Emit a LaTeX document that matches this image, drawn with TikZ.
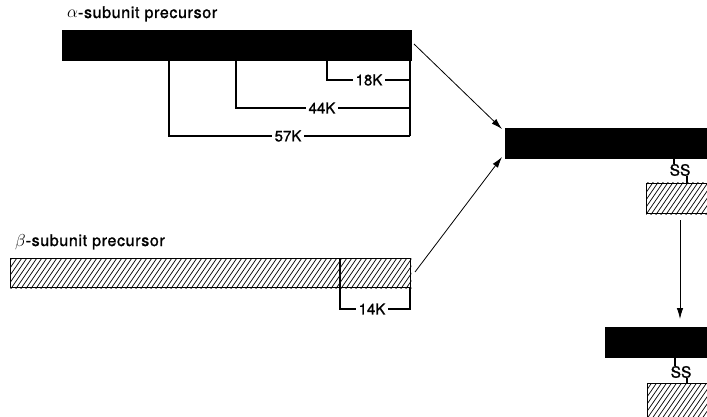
\documentclass[tikz,border=0pt]{standalone}
\usepackage{amsmath}
\usepackage{fontspec}
\setmainfont{TeX Gyre Heros}
\newfontfamily\lblfont{TeX Gyre Heros}[FakeBold=1.3]
\usetikzlibrary{arrows.meta}
\begin{document}
\begin{tikzpicture}[x=1pt,y=-1pt,
  bar/.style={draw=black,line width=1.4pt,inner sep=0pt,anchor=north west},
  blackbar/.style={bar,fill=black},
  hatchbar/.style={bar,fill=none},
  bracket/.style={line width=1.3pt},
  lbl/.style={font=\lblfont\fontsize{15}{16}\selectfont,fill=white,inner sep=2.5pt},
  title/.style={font=\lblfont\fontsize{16}{17}\selectfont\addfontfeature{LetterSpace=4},anchor=base west,inner sep=0pt},
  ss/.style={font=\lblfont\fontsize{15.5}{16}\selectfont,inner sep=0pt},
  arr/.style={line width=0.8pt,-{Latex[length=11pt,width=6.5pt]}},
  hatchline/.style={line width=0.7pt}
]
\useasboundingbox (0,0) rectangle (707,417);
\fill[white] (0,0) rectangle (707,417);

% alpha precursor
\node[title] (atitle) at (67,18) {$\alpha$-subunit precursor};
\node[blackbar,minimum width=349pt,minimum height=30pt] (abar) at (62,30) {};
\coordinate (a57) at (169,60);
\coordinate (a44) at (236,60);
\coordinate (a18) at (327,60);
\coordinate (aend) at (410,60);
\draw[bracket] (a18) |- (410,80);
\draw[bracket] (a44) |- (410,108);
\draw[bracket] (a57) |- (410,136);
\draw[bracket] (aend) -- (410,136);
\node[lbl] (l18) at (369,80) {18K};
\node[lbl] (l44) at (322,108) {44K};
\node[lbl] (l57) at (288,136) {57K};

% beta precursor
\node[title] (btitle) at (15,246) {$\beta$-subunit precursor};
\node[hatchbar,minimum width=400pt,minimum height=29pt] (bbar) at (10,258) {};
\begin{scope}
  \clip (bbar.north west) rectangle (bbar.south east);
  \foreach \x in {-20,-15,...,420} \draw[hatchline] (\x,290) -- (\x+24,255);
\end{scope}
\node[bar,minimum width=400pt,minimum height=29pt] at (10,258) {};
\coordinate (bdiv) at (340,258);
\draw[bracket] (bdiv) -- (340,309) -- (410,309) -- (410,287);
\node[lbl] (l14) at (372,309) {14K};

% mature dimer 1
\node[blackbar,minimum width=230pt,minimum height=30pt] (cbar) at (505,128) {};
\node[hatchbar,minimum width=80pt,minimum height=30pt] (cbox) at (646,183) {};
\begin{scope}
  \clip (cbox.north west) rectangle (cbox.south east);
  \foreach \x in {620,625,...,730} \draw[hatchline] (\x,216) -- (\x+24,181);
\end{scope}
\node[bar,minimum width=80pt,minimum height=30pt] at (646,183) {};
\node[ss] (ss1) at (680,170) {SS};
\draw[line width=1.1pt] (674,158) -- (ss1.north -| 674,0);
\draw[line width=1.1pt] (ss1.south -| 687,0) -- (687,183);

% mature dimer 2
\node[blackbar,minimum width=130pt,minimum height=30pt] (dbar) at (605,327) {};
\node[hatchbar,minimum width=80pt,minimum height=50pt] (dbox) at (647,383) {};
\begin{scope}
  \clip (dbox.north west) rectangle (dbox.south east);
  \foreach \x in {600,605,...,730} \draw[hatchline] (\x,436) -- (\x+38,381);
\end{scope}
\node[bar,minimum width=80pt,minimum height=50pt] at (647,383) {};
\node[ss] (ss2) at (681,372) {SS};
\draw[line width=1.1pt] (675,357) -- (ss2.north -| 675,0);
\draw[line width=1.1pt] (ss2.south -| 687,0) -- (687,383);

% arrows
\coordinate (a1s) at (414,44);
\coordinate (a1e) at (502,129);
\coordinate (a2s) at (415,272);
\coordinate (a2e) at (502,157);
\draw[arr] (a1s) -- (a1e);
\draw[arr] (a2s) -- (a2e);
\coordinate (a3s) at (680,220);
\coordinate (a3e) at (680,319);
\draw[arr] (a3s) -- (a3e);
\end{tikzpicture}
\end{document}
